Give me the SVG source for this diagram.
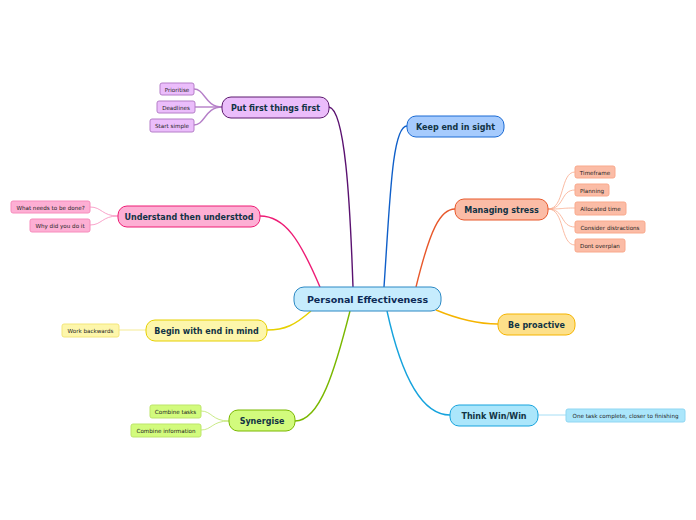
<svg xmlns="http://www.w3.org/2000/svg" width="696" height="520" viewBox="0 0 696 520">
<style>
text{font-family:"DejaVu Sans","Noto Sans",sans-serif;text-anchor:middle;dominant-baseline:central}
.m{font-size:8px;font-weight:bold;fill:#113344}
.s{font-size:5.6px;fill:#222}
.c path{fill:none;stroke-width:1.4}
.c .t{stroke-width:0.8}
</style>
<rect width="696" height="520" fill="#fff"/>
<g class="c">
<path d="M353,287 C350,200 345,110 329,107" stroke="#5a1170"/>
<path d="M384,287 C390,200 392,126 407,126" stroke="#0f5fc9"/>
<path d="M416,287 C430,230 440,209 455,209" stroke="#e8582b"/>
<path d="M436,310 C460,320 480,324 498,324" stroke="#f5b400"/>
<path d="M387,311 C400,370 420,415 450,415" stroke="#16a3dd"/>
<path d="M350,311 C335,370 320,421 295,421" stroke="#7ab800"/>
<path d="M311,311 C295,325 285,330 267,330" stroke="#e6d000"/>
<path d="M320,287 C300,240 285,216 260,216" stroke="#ee1c75"/>
<g class="t" stroke="#b57fc8"><path d="M222,107 C205,107 205,89 194,89" stroke="#b57fc8"/><path d="M222,107 L195,107" stroke="#b57fc8"/><path d="M222,107 C205,107 205,125 194,125" stroke="#b57fc8"/></g>
<path class="t" d="M118,216 C102,216 102,207 90,207" stroke="#f78cbc"/>
<path class="t" d="M118,216 C102,216 102,225 90,225" stroke="#f78cbc"/>
<path class="t" d="M548,209 C565,209 560,172 575,172" stroke="#f9a98c"/>
<path class="t" d="M548,209 C565,209 560,190 575,190" stroke="#f9a98c"/>
<path class="t" d="M548,209 C565,209 560,208 575,208" stroke="#f9a98c"/>
<path class="t" d="M548,209 C565,209 560,227 575,227" stroke="#f9a98c"/>
<path class="t" d="M548,209 C565,209 560,245 575,245" stroke="#f9a98c"/>
<path class="t" d="M146,330 L119,330" stroke="#f3e67a"/>
<path class="t" d="M229,421 C212,421 212,411 201,411" stroke="#bde56a"/>
<path class="t" d="M229,421 C212,421 212,430 201,430" stroke="#bde56a"/>
<path class="t" d="M538,415 L566,415" stroke="#8fd6f2"/>
</g>
<g id="center"><rect x="294" y="287" width="147" height="24" rx="10" fill="#c6ecfd" stroke="#2a88c4"/><text x="367.5" y="299.5" style="font-size:9.5px;font-weight:bold;fill:#0d2a55">Personal Effectiveness</text></g>
<g id="n1"><rect x="222" y="97" width="107" height="21" rx="9" fill="#ebbdfb" stroke="#5c1a6e"/><text class="m" x="275.5" y="108">Put first things first</text></g>
<g id="n2"><rect x="407" y="116" width="97" height="21" rx="9" fill="#a6cbfd" stroke="#1a6ad4"/><text class="m" x="455.5" y="127">Keep end in sight</text></g>
<g id="n3"><rect x="455" y="199" width="93" height="21" rx="9" fill="#fbbca6" stroke="#e8582b"/><text class="m" x="501.5" y="210">Managing stress</text></g>
<g id="n4"><rect x="498" y="314" width="77" height="21" rx="9" fill="#fde08a" stroke="#f5b400"/><text class="m" x="536.5" y="325">Be proactive</text></g>
<g id="n5"><rect x="450" y="405" width="88" height="21" rx="9" fill="#abe6fb" stroke="#16a3dd"/><text class="m" x="494" y="416">Think Win/Win</text></g>
<g id="n6"><rect x="229" y="410" width="66" height="21" rx="9" fill="#d2fb7d" stroke="#7ab800"/><text class="m" x="262" y="421">Synergise</text></g>
<g id="n7"><rect x="146" y="320" width="121" height="21" rx="9" fill="#fdf6ab" stroke="#e6d000"/><text class="m" x="206.5" y="331">Begin with end in mind</text></g>
<g id="n8"><rect x="118" y="206" width="142" height="21" rx="9" fill="#fdafd4" stroke="#ee1c75"/><text class="m" x="189" y="217">Understand then understtod</text></g>
<g id="s1"><rect x="160" y="83" width="34" height="12" rx="2" fill="#ebbdfb" stroke="#b57fc8"/><text class="s" x="177" y="89.5">Prioritise</text></g>
<g id="s2"><rect x="157" y="101" width="38" height="12" rx="2" fill="#ebbdfb" stroke="#b57fc8"/><text class="s" x="176" y="107.5">Deadlines</text></g>
<g id="s3"><rect x="150" y="119" width="44" height="13" rx="2" fill="#ebbdfb" stroke="#b57fc8"/><text class="s" x="172" y="126">Start simple</text></g>
<g id="s4"><rect x="11" y="201" width="79" height="12" rx="2" fill="#fdafd4" stroke="#f78cbc"/><text class="s" x="50.5" y="207.5">What needs to be done?</text></g>
<g id="s5"><rect x="30" y="219" width="60" height="13" rx="2" fill="#fdafd4" stroke="#f78cbc"/><text class="s" x="60" y="226">Why did you do it</text></g>
<g id="s6"><rect x="575" y="166" width="40" height="12" rx="2" fill="#fbbca6" stroke="#f9a98c"/><text class="s" x="595" y="172.5">Timeframe</text></g>
<g id="s7"><rect x="575" y="184" width="34" height="12" rx="2" fill="#fbbca6" stroke="#f9a98c"/><text class="s" x="592" y="190.5">Planning</text></g>
<g id="s8"><rect x="575" y="202" width="51" height="13" rx="2" fill="#fbbca6" stroke="#f9a98c"/><text class="s" x="600.5" y="209">Allocated time</text></g>
<g id="s9"><rect x="575" y="221" width="70" height="12" rx="2" fill="#fbbca6" stroke="#f9a98c"/><text class="s" x="610" y="227.5">Consider distractions</text></g>
<g id="s10"><rect x="575" y="239" width="50" height="13" rx="2" fill="#fbbca6" stroke="#f9a98c"/><text class="s" x="600" y="246">Dont overplan</text></g>
<g id="s11"><rect x="62" y="324" width="57" height="13" rx="2" fill="#fdf6ab" stroke="#f3e67a"/><text class="s" x="90.5" y="331">Work backwards</text></g>
<g id="s12"><rect x="150" y="405" width="51" height="13" rx="2" fill="#d2fb7d" stroke="#bde56a"/><text class="s" x="175.5" y="412">Combine tasks</text></g>
<g id="s13"><rect x="131" y="424" width="70" height="13" rx="2" fill="#d2fb7d" stroke="#bde56a"/><text class="s" x="166" y="431">Combine information</text></g>
<g id="s14"><rect x="566" y="409" width="119" height="13" rx="2" fill="#abe6fb" stroke="#8fd6f2"/><text class="s" x="625.5" y="416">One task complete, closer to finishing</text></g>
</svg>
